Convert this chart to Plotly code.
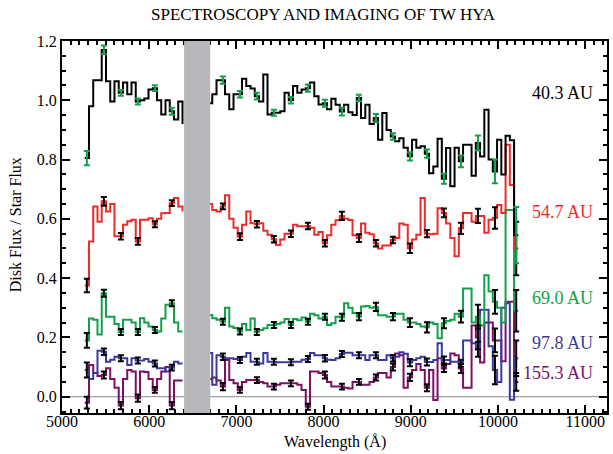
import numpy as np
import plotly.graph_objects as go

# ---------------- data ----------------
WAVE_START = 5285.0      # centre of first bin (Angstrom)
BIN_WIDTH = 48.75        # bin width (Angstrom)
N_BINS = 102
wave = WAVE_START + BIN_WIDTH * np.arange(N_BINS)

flux_403 = [
    0.805, 0.98, 1.068, 1.068, 1.17, 1.064, 0.996, 1.064, 1.025, 1.06,
    1.02, 1.06, 0.996, 1.0, 1.006, 1.036, 1.041, 1.0, 0.952, 1.0,
    0.963, 0.935, 0.996, 0.92, None, None, None, None, None, 0.99,
    1.02, 1.068, 1.068, 1.02, 0.97, 1.02, 1.02, 1.073, 1.048, 1.04,
    1.014, 0.996, 1.087, 0.952, 0.958, 0.958, 0.963, 1.025, 1.0, 1.048,
    1.025, 1.036, 1.041, 1.06, 1.014, 0.986, 0.99, 0.97, 1.005, 0.985,
    0.962, 0.985, 0.96, 0.95, 1.008, 0.94, 0.985, 0.92, 0.94, 0.867,
    0.957, 0.90, 0.878, 0.862, 0.872, 0.84, 0.811, 0.867, 0.84, 0.845,
    0.82, 0.754, 0.777, 0.87, 0.735, 0.839, 0.71, 0.84, 0.794, 0.85,
    0.85, 0.745, 0.856, 0.81, 0.968, 0.80, 0.76, 0.867, 0.75, 0.88,
    0.865, 0.545]

flux_547 = [
    0.375, 0.524, 0.642, 0.59, 0.659, 0.625, 0.65, 0.541, 0.541, 0.58,
    0.592, 0.597, 0.524, 0.597, 0.597, 0.602, 0.582, 0.60, 0.619, 0.62,
    0.653, 0.67, 0.642, 0.625, None, None, None, None, None, 0.65,
    0.63, 0.625, 0.642, 0.68, 0.60, 0.57, 0.54, 0.58, 0.625, 0.585,
    0.582, 0.585, 0.56, 0.546, 0.531, 0.512, 0.53, 0.55, 0.55, 0.58,
    0.575, 0.575, 0.576, 0.57, 0.546, 0.556, 0.518, 0.545, 0.58, 0.595,
    0.61, 0.60, 0.596, 0.545, 0.535, 0.584, 0.553, 0.548, 0.518, 0.50,
    0.51, 0.51, 0.529, 0.535, 0.584, 0.58, 0.501, 0.53, 0.546, 0.67,
    0.55, 0.548, 0.55, 0.636, 0.62, 0.584, 0.535, 0.474, 0.568, 0.62,
    0.62, 0.59, 0.61, 0.61, 0.553, 0.597, 0.603, 0.647, 0.62, 0.85,
    0.714, 0.50]

flux_690 = [
    0.19, 0.264, 0.26, 0.21, 0.349, 0.27, 0.27, 0.245, 0.218, 0.26,
    0.26, 0.25, 0.218, 0.265, 0.25, 0.237, 0.225, 0.22, 0.264, 0.31,
    0.315, 0.25, 0.22, 0.22, None, None, None, None, None, 0.276,
    0.265, 0.26, 0.253, 0.30, 0.237, 0.232, 0.22, 0.245, 0.225, 0.264,
    0.218, 0.225, 0.231, 0.242, 0.242, 0.245, 0.25, 0.262, 0.242, 0.262,
    0.258, 0.267, 0.253, 0.28, 0.275, 0.264, 0.27, 0.242, 0.248, 0.27,
    0.268, 0.315, 0.30, 0.282, 0.27, 0.304, 0.306, 0.30, 0.303, 0.275,
    0.275, 0.27, 0.27, 0.28, 0.28, 0.26, 0.25, 0.25, 0.245, 0.237,
    0.234, 0.25, 0.245, 0.197, 0.248, 0.255, 0.26, 0.28, 0.27, 0.365,
    0.365, 0.25, 0.27, 0.24, 0.41, 0.355, 0.32, 0.30, 0.25, 0.63,
    0.63, 0.29]

flux_978 = [
    0.09, 0.06, 0.08, 0.155, 0.152, 0.118, 0.125, 0.135, 0.13, 0.13,
    0.107, 0.13, 0.122, 0.122, 0.127, 0.118, 0.112, 0.096, 0.096, 0.085,
    0.098, 0.118, 0.112, 0.112, None, None, None, None, None, 0.147,
    0.04, 0.14, 0.135, 0.13, 0.13, 0.127, 0.124, 0.135, 0.147, 0.118,
    0.118, 0.112, 0.147, 0.118, 0.118, 0.116, 0.116, 0.116, 0.116, 0.118,
    0.118, 0.125, 0.127, 0.147, 0.14, 0.14, 0.13, 0.125, 0.124, 0.13,
    0.144, 0.148, 0.148, 0.14, 0.14, 0.14, 0.124, 0.14, 0.14, 0.124,
    0.124, 0.14, 0.13, 0.135, 0.15, 0.145, 0.115, 0.124, 0.13, 0.135,
    0.117, 0.117, 0.124, 0.18, 0.124, 0.124, 0.118, 0.118, 0.113, 0.19,
    0.19, 0.18, 0.16, 0.293, 0.293, 0.17, 0.09, 0.05, 0.30, 0.315,
    -0.01, 0.13]

flux_1553 = [
    -0.02, 0.107, 0.08, 0.07, 0.073, 0.096, 0.06, 0.03, -0.03, 0.06,
    0.09, 0.085, -0.005, 0.085, 0.083, 0.06, 0.023, 0.06, 0.085, 0.10,
    -0.03, 0.055, 0.055, 0.055, None, None, None, None, None, 0.06,
    0.065, 0.055, 0.034, 0.124, 0.056, 0.045, 0.023, 0.05, 0.056, 0.056,
    0.056, 0.05, 0.045, 0.034, 0.034, 0.04, 0.045, 0.045, 0.045, 0.045,
    0.04, 0.023, -0.034, 0.085, 0.085, 0.08, 0.073, 0.05, 0.034, 0.034,
    0.034, 0.03, 0.028, 0.05, 0.05, 0.04, 0.04, 0.05, 0.065, 0.08,
    0.08, 0.065, 0.10, 0.146, 0.14, 0.03, 0.065, 0.09, 0.11, 0.09,
    0.03, 0.09, -0.011, 0.13, 0.095, 0.11, 0.146, 0.14, 0.095, 0.03,
    0.03, 0.24, 0.20, 0.115, 0.25, 0.25, 0.19, 0.19, 0.12, 0.32,
    0.32, 0.05]

# bins carrying error bars
err_index = [0, 4, 8, 12, 16, 20, 24, 28, 32, 36, 40, 44, 48, 52, 56,
             60, 64, 68, 72, 76, 80, 84, 88, 92, 96, 101]
err_403 = [0.024, 0.015, 0.01, 0.01, 0.01, 0.012, None, None, 0.012, 0.011,
           0.011, 0.01, 0.011, 0.012, 0.012, 0.013, 0.011, 0.014, 0.011,
           0.014, 0.014, 0.017, 0.02, 0.025, 0.04, 0.095]
err_547 = [0.023, 0.015, 0.011, 0.011, 0.01, 0.01, None, None, 0.01, 0.011,
           0.011, 0.011, 0.011, 0.011, 0.011, 0.014, 0.013, 0.011, 0.011,
           0.016, 0.012, 0.015, 0.019, 0.024, 0.036, 0.09]
err_690 = [0.025, 0.012, 0.01, 0.01, 0.01, 0.01, None, None, 0.01, 0.01,
           0.01, 0.01, 0.01, 0.01, 0.01, 0.012, 0.012, 0.014, 0.012,
           0.015, 0.017, 0.017, 0.02, 0.04, 0.04, 0.07]
err_978 = [0.025, 0.011, 0.01, 0.01, 0.01, 0.01, None, None, 0.011, 0.01,
           0.01, 0.01, 0.01, 0.01, 0.011, 0.01, 0.01, 0.01, 0.011,
           0.012, 0.012, 0.012, 0.012, 0.025, 0.048, 0.06]
err_1553 = [0.02, 0.012, 0.012, 0.012, 0.01, 0.012, None, None, 0.012, 0.01,
            0.01, 0.01, 0.01, 0.01, 0.012, 0.01, 0.01, 0.01, 0.012,
            0.012, 0.012, 0.012, 0.015, 0.04, 0.04, 0.03]

labels = ["40.3 AU", "54.7 AU", "69.0 AU", "97.8 AU", "155.3 AU"]
label_y = [1.025, 0.624, 0.333, 0.181, 0.080]
masked_band = (6400, 6700)

# ---------------- styles ----------------
C_BLACK = "#000000"
C_RED = "#ee2b2b"
C_GREEN = "#12a04a"
C_BLUE = "#3b3a9c"
C_PURPLE = "#7d0f66"
FONT = "Liberation Serif, Times New Roman, serif"

series = [
    (flux_1553, err_1553, C_PURPLE, C_BLACK),
    (flux_978, err_978, C_BLUE, C_BLACK),
    (flux_690, err_690, C_GREEN, C_BLACK),
    (flux_547, err_547, C_RED, C_BLACK),
    (flux_403, err_403, C_BLACK, C_GREEN),
]
label_colors = [C_BLACK, C_RED, C_GREEN, C_BLUE, C_PURPLE]

fig = go.Figure()

edges = list(wave - BIN_WIDTH / 2) + [wave[-1] + BIN_WIDTH / 2]
for flux, err, lc, ec in series:
    fig.add_trace(go.Scatter(
        x=edges, y=list(flux) + [flux[-1]], mode="lines",
        line=dict(color=lc, width=2, shape="hv"),
        connectgaps=False, hoverinfo="skip", showlegend=False))

for flux, err, lc, ec in series:
    xs, ys, es = [], [], []
    for i, e in zip(err_index, err):
        if e is None or flux[i] is None:
            continue
        xs.append(wave[i]); ys.append(flux[i]); es.append(e)
    fig.add_trace(go.Scatter(
        x=xs, y=ys, mode="markers",
        marker=dict(size=1, color=ec, opacity=0),
        error_y=dict(type="data", array=es, visible=True, color=ec,
                     thickness=2, width=3),
        hoverinfo="skip", showlegend=False))

# masked H-alpha band
fig.add_shape(type="rect", xref="x", yref="paper",
              x0=masked_band[0], x1=masked_band[1], y0=0, y1=1,
              fillcolor="#b6b8bb", line=dict(width=0), layer="above")
# zero line
fig.add_shape(type="line", xref="paper", yref="y", x0=0, x1=1, y0=0, y1=0,
              line=dict(color="#8a8a8a", width=1), layer="below")

for txt, yv, col in zip(labels, label_y, label_colors):
    fig.add_annotation(x=0.978, xref="paper", y=yv, yref="y", text=txt,
                       showarrow=False, xanchor="right", yanchor="middle",
                       font=dict(family=FONT, size=18, color=col))

fig.add_annotation(x=0.5, xref="paper", y=-0.077, yref="paper",
                   text="Wavelength (Å)", showarrow=False,
                   xanchor="center", yanchor="middle",
                   font=dict(family=FONT, size=16, color="black"))
fig.add_annotation(x=-0.086, xref="paper", y=0.505, yref="paper",
                   text="Disk Flux / Star Flux", showarrow=False, textangle=-90,
                   xanchor="center", yanchor="middle",
                   font=dict(family=FONT, size=16, color="black"))
fig.add_annotation(x=0.479, xref="paper", y=1.07, yref="paper",
                   text="SPECTROSCOPY AND IMAGING OF TW HYA", showarrow=False,
                   xanchor="center", yanchor="middle",
                   font=dict(family=FONT, size=17, color="black"))

axis_common = dict(showgrid=False, zeroline=False, showline=True,
                   linecolor="black", linewidth=2, mirror="allticks",
                   ticks="inside", tickcolor="black", tickwidth=2,
                   tickfont=dict(family=FONT, size=16, color="black"))

fig.update_xaxes(range=[5000, 11250], tick0=5000, dtick=1000, ticklen=8,
                 tickformat="d", ticklabelstandoff=-7,
                 minor=dict(dtick=100, ticklen=4, tickwidth=1.5,
                            tickcolor="black", ticks="inside"),
                 **axis_common)
fig.update_yaxes(range=[-0.055, 1.2], tick0=0, dtick=0.2, ticklen=8,
                 tickformat=".1f",
                 minor=dict(dtick=0.05, ticklen=4, tickwidth=1.5,
                            tickcolor="black", ticks="inside"),
                 **axis_common)

fig.update_layout(width=613, height=454,
                  margin=dict(l=62, r=4, t=41, b=41),
                  paper_bgcolor="white", plot_bgcolor="white",
                  font=dict(family=FONT))

fig.write_html("out.html")
